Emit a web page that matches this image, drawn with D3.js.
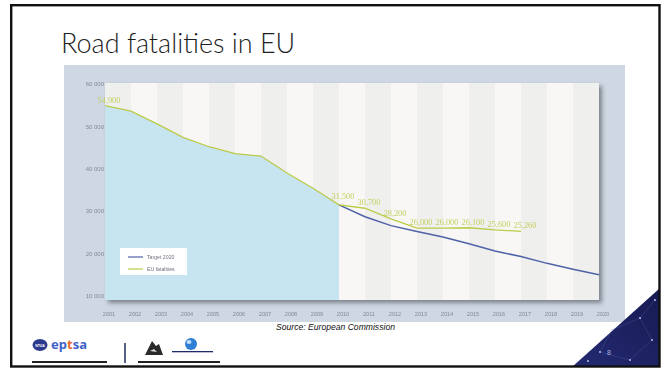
<!DOCTYPE html>
<html>
<head>
<meta charset="utf-8">
<script src="https://cdn.jsdelivr.net/npm/d3@7/dist/d3.min.js"></script>
<style>
  body { margin: 0; background: #fff; }
  svg { display: block; }
</style>
</head>
<body>
<svg id="slide" width="667" height="369"></svg>
<script>
// ---- data ----
const yearLabels = ["2001","2002","2003","2004","2005","2006","2007","2008","2009","2010",
                    "2011","2012","2013","2014","2015","2016","2017","2018","2019","2020"];
const yTickValues = [10000, 20000, 30000, 40000, 50000, 60000];

// EU road fatalities (recorded)
const fatalityYears = [2001,2002,2003,2004,2005,2006,2007,2008,2009,2010,2011,2012,2013,2014,2015,2016,2017];
const fatalities    = [54900,53600,50600,47400,45200,43600,43000,39000,35400,31500,30700,28200,26000,26000,26100,25600,25260];

// Target path towards 2020
const targetYears = [2010,2011,2012,2013,2014,2015,2016,2017,2018,2019,2020];
const target      = [31500,28700,26600,25200,23900,22300,20600,19300,17700,16300,15000];

// Years whose value is printed next to the line
const labelledYears = [2001,2010,2011,2012,2013,2014,2015,2016,2017];
// Last year of the shaded (observed) period
const shadeUntil = 2010;

const legendItems = [
  { name: "Target 2020", color: "#4f62a8" },
  { name: "EU fatalities", color: "#bccb48" }
];

// ---- layout ----
const svg = d3.select("#slide");
const plot = { left: 105, right: 599, top: 83, bottom: 300 };

const x = d3.scaleLinear().domain([2001, 2020]).range([plot.left, plot.right]);
const y = d3.scaleLinear().domain([10000, 60000]).range([296, 84]);

const defs = svg.append("defs");
const shadow = defs.append("filter").attr("id", "plotShadow")
  .attr("x", "-5%").attr("y", "-5%").attr("width", "115%").attr("height", "120%");
shadow.append("feDropShadow").attr("dx", 3).attr("dy", 3).attr("stdDeviation", 2)
  .attr("flood-color", "#3a3f4a").attr("flood-opacity", 0.55);
const soft = defs.append("filter").attr("id", "soft");
soft.append("feGaussianBlur").attr("stdDeviation", 0.35);

const triGrad = defs.append("linearGradient").attr("id", "triGrad")
  .attr("x1", "0").attr("y1", "1").attr("x2", "1").attr("y2", "0");
triGrad.append("stop").attr("offset", "0%").attr("stop-color", "#232a72");
triGrad.append("stop").attr("offset", "100%").attr("stop-color", "#171b52");

// ---- slide title ----
svg.append("text")
  .attr("x", 61).attr("y", 53)
  .attr("font-family", "Lato, 'Open Sans', sans-serif")
  .attr("font-weight", 300)
  .attr("font-size", 27)
  .attr("fill", "#1e1e1e")
  .text("Road fatalities in EU");

// ---- chart panel ----
const chart = svg.append("g").attr("filter", "url(#soft)");

chart.append("rect")
  .attr("x", 64).attr("y", 65).attr("width", 561).attr("height", 257)
  .attr("fill", "#cfd7e3");

// plot background with shadow
chart.append("rect")
  .attr("x", plot.left).attr("y", plot.top)
  .attr("width", plot.right - plot.left).attr("height", plot.bottom - plot.top)
  .attr("fill", "#f4f4f2")
  .attr("filter", "url(#plotShadow)");

// alternating year columns
const columns = d3.range(2001, 2020);
chart.append("g").selectAll("rect")
  .data(columns)
  .join("rect")
  .attr("x", d => x(d))
  .attr("y", plot.top)
  .attr("width", d => x(d + 1) - x(d))
  .attr("height", plot.bottom - plot.top)
  .attr("fill", (d, i) => i % 2 === 0 ? "#efefee" : "#f8f7f5");

// shaded area under the observed period
const observed = fatalityYears.map((yr, i) => ({ yr, v: fatalities[i] }))
  .filter(d => d.yr <= shadeUntil);
chart.append("path")
  .datum(observed)
  .attr("fill", "#c7e4f1")
  .attr("d", d3.area().x(d => x(d.yr)).y0(plot.bottom).y1(d => y(d.v)));

// target line
const targetData = targetYears.map((yr, i) => ({ yr, v: target[i] }));
chart.append("path")
  .datum(targetData)
  .attr("fill", "none")
  .attr("stroke", legendItems[0].color)
  .attr("stroke-width", 1.5)
  .attr("d", d3.line().x(d => x(d.yr)).y(d => y(d.v)));

// fatalities line
const fatalData = fatalityYears.map((yr, i) => ({ yr, v: fatalities[i] }));
chart.append("path")
  .datum(fatalData)
  .attr("fill", "none")
  .attr("stroke", legendItems[1].color)
  .attr("stroke-width", 1.3)
  .attr("d", d3.line().x(d => x(d.yr)).y(d => y(d.v)));

// value labels
const fmt = d3.format(",");
chart.append("g").selectAll("text")
  .data(fatalData.filter(d => labelledYears.includes(d.yr)))
  .join("text")
  .attr("x", d => x(d.yr) + 4)
  .attr("y", d => y(d.v) - (d.yr === 2010 ? 6 : 3))
  .attr("text-anchor", "middle")
  .attr("font-family", "'Liberation Serif', serif")
  .attr("font-size", 8.3)
  .attr("fill", "#c4cf5e")
  .text(d => fmt(d.v));

// y axis labels
const yFmt = v => d3.format(",")(v).replace(",", " ");
chart.append("g").selectAll("text")
  .data(yTickValues)
  .join("text")
  .attr("x", 104)
  .attr("y", d => y(d))
  .attr("dy", "0.35em")
  .attr("text-anchor", "end")
  .attr("font-family", "'Liberation Sans', sans-serif")
  .attr("font-size", 6)
  .attr("fill", "#838a97")
  .text(yFmt);

// x axis labels
chart.append("g").selectAll("text")
  .data(yearLabels)
  .join("text")
  .attr("x", d => x(+d) + 4)
  .attr("y", 316)
  .attr("text-anchor", "middle")
  .attr("font-family", "'Liberation Sans Narrow', 'Liberation Sans', sans-serif")
  .attr("font-size", 5.6)
  .attr("fill", "#838a97")
  .text(d => d);

// legend
const legend = chart.append("g").attr("transform", "translate(120,248)");
legend.append("rect").attr("width", 67).attr("height", 27).attr("fill", "#ffffff");
legendItems.forEach((item, i) => {
  const ly = 9 + i * 12;
  legend.append("line")
    .attr("x1", 8).attr("x2", 23).attr("y1", ly).attr("y2", ly)
    .attr("stroke", item.color).attr("stroke-width", 1.2);
  legend.append("text")
    .attr("x", 27).attr("y", ly).attr("dy", "0.35em")
    .attr("font-family", "'Liberation Sans', sans-serif")
    .attr("font-size", 5.2)
    .attr("fill", "#6f7480")
    .text(item.name);
});

// ---- source note ----
svg.append("text")
  .attr("x", 276).attr("y", 330)
  .attr("font-family", "'Liberation Sans', Arial, sans-serif")
  .attr("font-style", "italic")
  .attr("font-size", 8.6)
  .attr("fill", "#111")
  .text("Source: European Commission");

// ---- footer logos ----
const footer = svg.append("g");
// NTUA-style badge
footer.append("ellipse").attr("cx", 40).attr("cy", 345).attr("rx", 7.5).attr("ry", 6).attr("fill", "#2b3a8c");
footer.append("text").attr("x", 40).attr("y", 346.5).attr("text-anchor", "middle")
  .attr("font-family", "'Liberation Sans', sans-serif").attr("font-size", 3.5).attr("font-weight", 700)
  .attr("fill", "#fff").text("NTUA");
// eptisa wordmark
const ept = footer.append("text").attr("x", 51).attr("y", 349)
  .attr("font-family", "'Noto Sans', sans-serif").attr("font-size", 13).attr("font-weight", 700);
ept.append("tspan").attr("fill", "#3f63c9").text("ep");
ept.append("tspan").attr("fill", "#e6692c").text("t");
ept.append("tspan").attr("fill", "#3f63c9").text("sa");
footer.append("rect").attr("x", 32).attr("y", 361).attr("width", 75).attr("height", 2).attr("fill", "#222");
// divider
footer.append("line").attr("x1", 125).attr("x2", 125).attr("y1", 343).attr("y2", 363)
  .attr("stroke", "#1f2a5a").attr("stroke-width", 1.5);
// mountain mark
footer.append("path").attr("d", "M145,355 L152,341 L156,346 L159,344 L163,355 Z").attr("fill", "#2a2a2a");
footer.append("path").attr("d", "M150,351 L154,349 L157,352 Z").attr("fill", "#ddd");
// globe mark
footer.append("circle").attr("cx", 191).attr("cy", 344).attr("r", 6).attr("fill", "#2f7fd6");
footer.append("ellipse").attr("cx", 189).attr("cy", 342).attr("rx", 2.5).attr("ry", 2).attr("fill", "#bfe0ff");
footer.append("rect").attr("x", 172).attr("y", 351).attr("width", 41).attr("height", 1.3).attr("fill", "#1f2a6a");
footer.append("rect").attr("x", 138).attr("y", 361).attr("width", 82).attr("height", 2).attr("fill", "#222");

// ---- corner decoration ----
svg.append("path").attr("d", "M572,367 L660,367 L660,288 Z").attr("fill", "url(#triGrad)");
const net = svg.append("g").attr("stroke", "#5a66b0").attr("stroke-width", 0.4).attr("opacity", 0.8);
[[612,330,640,318],[640,318,652,340],[612,330,600,352],[600,352,630,360],[630,360,652,340],[640,318,655,300]]
  .forEach(s => net.append("line").attr("x1", s[0]).attr("y1", s[1]).attr("x2", s[2]).attr("y2", s[3]));
[[612,330],[640,318],[652,340],[600,352],[630,360],[655,300],[588,361]]
  .forEach(p => svg.append("circle").attr("cx", p[0]).attr("cy", p[1]).attr("r", 0.9).attr("fill", "#c9d0f5"));
svg.append("text").attr("x", 609).attr("y", 355).attr("text-anchor", "middle")
  .attr("font-family", "'Liberation Sans', sans-serif").attr("font-size", 7)
  .attr("fill", "#aab2e0").text("8");

// ---- slide frame ----
svg.append("rect")
  .attr("x", 11.2).attr("y", 5.2).attr("width", 648.3).attr("height", 361.3)
  .attr("fill", "none").attr("stroke", "#111").attr("stroke-width", 2.4);
</script>
</body>
</html>
